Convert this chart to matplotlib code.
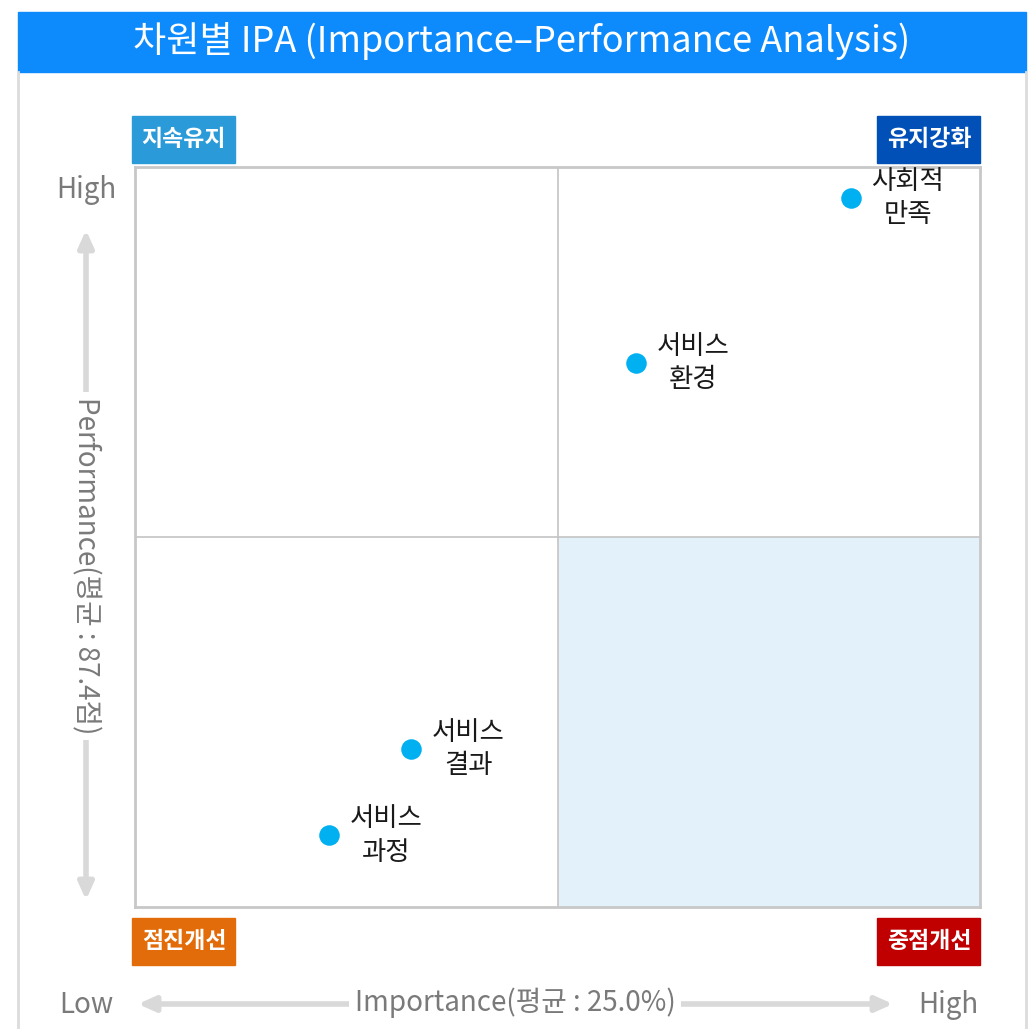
import matplotlib.pyplot as plt
from matplotlib.patches import Rectangle

plt.rcParams['font.family'] = ['Noto Sans CJK KR', 'DejaVu Sans']

# --- data ---
dimensions = ['사회적\n만족', '서비스\n환경', '서비스\n결과', '서비스\n과정']
importance = [28.47, 25.93, 23.27, 22.30]     # %
performance = [90.15, 88.81, 85.68, 84.98]    # 점
importance_mean = 25.0
performance_mean = 87.4
x_range = (20.0, 30.0)
y_range = (84.4, 90.4)

quadrant_names = ['지속유지', '유지강화', '점진개선', '중점개선']
quadrant_colors = ['#2a9ad8', '#0050b8', '#e36c0a', '#c00000']

W, H = 1034, 1029
fig = plt.figure(figsize=(W / 100, H / 100), dpi=100, facecolor='white')

# background layer in pixel coordinates (origin top-left)
bg = fig.add_axes([0, 0, 1, 1])
bg.set_xlim(0, W)
bg.set_ylim(H, 0)
bg.set_axis_off()

bg.add_patch(Rectangle((18, 12), 1008, 60, color='#0d8bfd', zorder=1))
bg.plot([18, 18], [72, H], color='#dcdcdc', lw=2)
bg.plot([1026, 1026], [72, H], color='#dcdcdc', lw=2)
bg.text(522, 41, '차원별 IPA (Importance\u2013Performance Analysis)', color='white',
        fontsize=26, ha='center', va='center', zorder=2)

# quadrant badges
badge_pos = [(132, 116), (877, 116), (132, 918), (877, 918)]
for name, col, (bx, by) in zip(quadrant_names, quadrant_colors, badge_pos):
    bg.add_patch(Rectangle((bx, by), 103, 47, color=col))
    bg.text(bx + 52, by + 24, name, color='white', fontsize=16.5,
            fontweight='bold', ha='center', va='center')

# axis arrows
arrow_col = '#d9d9d9'
label_col = '#7a7a7a'
bg.annotate('', xy=(86, 230), xytext=(86, 900),
            arrowprops=dict(arrowstyle='<|-|>,head_length=1.0,head_width=0.45',
                            color=arrow_col, lw=4, shrinkA=0, shrinkB=0))
bg.text(86, 566, f'Performance(평균 : {performance_mean}점)', rotation=270,
        color=label_col, fontsize=20, ha='center', va='center',
        bbox=dict(facecolor='white', edgecolor='none', pad=4))
bg.text(86, 190, 'High', color=label_col, fontsize=20, ha='center', va='center')

bg.annotate('', xy=(138, 1004), xytext=(893, 1004),
            arrowprops=dict(arrowstyle='<|-|>,head_length=1.0,head_width=0.45',
                            color=arrow_col, lw=4, shrinkA=0, shrinkB=0))
bg.text(515, 1003, f'Importance(평균 : {importance_mean}%)', color=label_col,
        fontsize=20, ha='center', va='center',
        bbox=dict(facecolor='white', edgecolor='none', pad=4))
bg.text(86, 1005, 'Low', color=label_col, fontsize=20, ha='center', va='center')
bg.text(948, 1005, 'High', color=label_col, fontsize=20, ha='center', va='center')

# --- main plot ---
ax = fig.add_axes([135 / W, 1 - 907 / H, 845 / W, 740 / H])
ax.set_xlim(*x_range)
ax.set_ylim(*y_range)
ax.axvspan(importance_mean, x_range[1], ymin=0, ymax=0.5, color='#e3f2fa', lw=0)
ax.axvline(importance_mean, color='#c4c4c4', lw=1.2)
ax.axhline(performance_mean, color='#c4c4c4', lw=1.2)
ax.scatter(importance, performance, s=190, color='#00b0f0', zorder=3)
for name, xv, yv in zip(dimensions, importance, performance):
    ax.annotate(name, (xv, yv), xytext=(41, 0), textcoords='offset points',
                ha='center', va='center', fontsize=19, color='#1a1a1a',
                linespacing=1.3)
ax.set_xticks([])
ax.set_yticks([])
for sp in ax.spines.values():
    sp.set_color('#c8c8c8')
    sp.set_linewidth(2)

fig.savefig('out.png', dpi=100)
